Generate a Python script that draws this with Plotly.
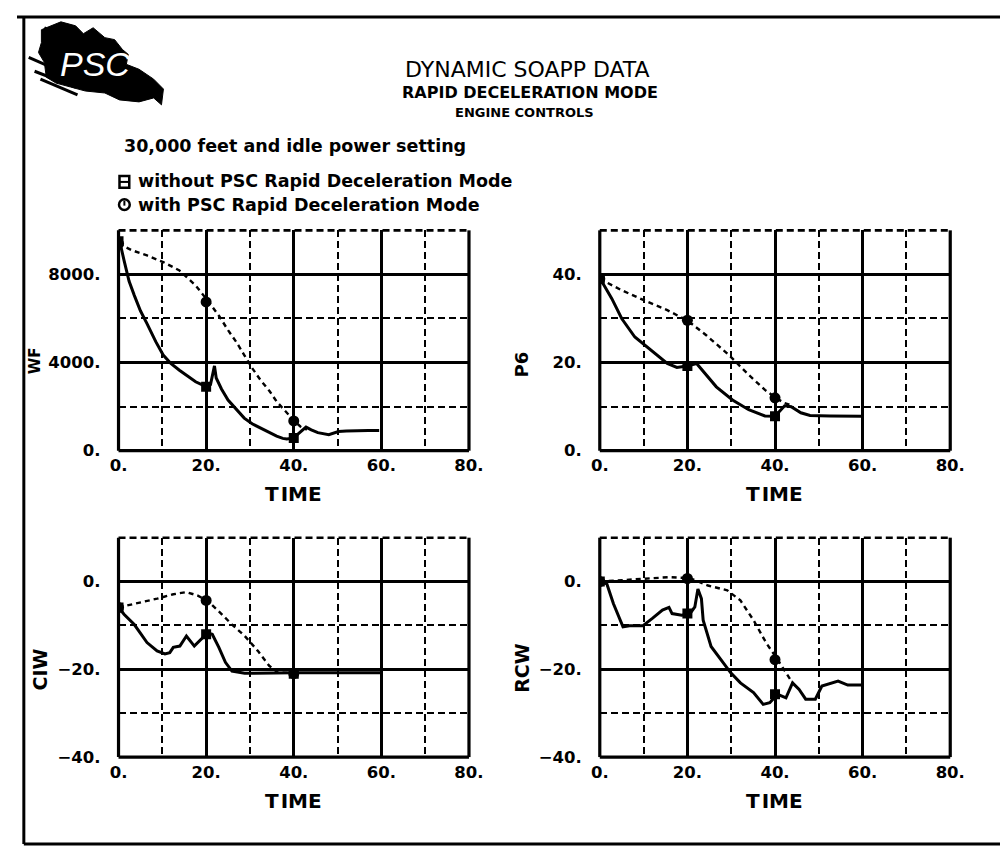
import plotly.graph_objects as go

W, H = 1008, 848

# ---------------- data ----------------
time_ticks = [0, 20, 40, 60, 80]
time_ticktext = ["0.", "20.", "40.", "60.", "80."]
marker_times = [0, 20, 40]

# WF
wf_solid_t = [0, 0.5, 1.3, 2.4, 3.6, 5, 6.5, 8.5, 10.2, 12, 13.9, 15.8, 17.6, 19, 20.2, 21, 21.5, 21.9, 22.3,
              23.5, 25, 27, 28.7, 30.5, 32.4, 34.5, 36.1, 37.5, 38.4, 39.9, 41.3, 42.8, 44, 45.5, 48, 50.2, 52,
              54.7, 57, 59.5]
wf_solid_v = [9500, 9300, 8600, 7700, 7050, 6350, 5770, 4950, 4340, 3950, 3650, 3370, 3130, 3000, 2900, 3000,
              3500, 3850, 3300, 2800, 2300, 1850, 1480, 1220, 1030, 820, 660, 560, 530, 570, 800, 1070, 950, 820,
              725, 870, 900, 920, 920, 920]
wf_dash_t = [0, 3, 6.5, 10.2, 13.9, 17.6, 20.6, 23, 25, 27, 28.7, 30.5, 32.4, 34.5, 36.1, 38, 39.9, 41.5, 43]
wf_dash_v = [9400, 9100, 8860, 8560, 8180, 7500, 6750, 6100, 5470, 4900, 4340, 3750, 3210, 2700, 2230, 1800,
             1400, 1100, 950]
wf_mark_solid = [9500, 2900, 580]
wf_mark_dash = [9400, 6750, 1350]

# P6
p6_solid_t = [0, 1, 2.75, 5, 8, 11.7, 15.4, 17.6, 19.9, 22.1, 24.3, 26.6, 30.3, 34, 37.7, 40, 42.2, 43.7, 45.9,
              48, 52.6, 56, 59.7]
p6_solid_v = [39, 37.5, 34.5, 30, 25.8, 22.8, 19.8, 18.9, 19.2, 19.8, 17.2, 14.5, 11.5, 9.3, 7.9, 7.8, 10.2,
              10.0, 8.6, 8.0, 7.9, 7.9, 7.8]
p6_dash_t = [0, 5, 10.2, 15.4, 20.2, 24.3, 29.5, 34, 37.7, 40.3, 42.2, 44]
p6_dash_v = [39, 36.4, 34.1, 31.9, 29.4, 26.2, 21.7, 17.2, 13.8, 11.9, 10.8, 10.2]
p6_mark_solid = [39, 19.2, 7.8]
p6_mark_dash = [39, 29.6, 12]

# CIW
ciw_solid_t = [0, 1.3, 3.6, 6.5, 8.8, 10.6, 11.7, 12.5, 14, 15.5, 17.3, 18.8, 20.3, 21.4, 22.9, 24.4, 25.9, 28.8,
               35, 40, 50, 60]
ciw_solid_v = [-5.9, -7.5, -9.8, -13.9, -15.8, -16.5, -16.2, -15, -14.7, -12.4, -14.7, -13.2, -11.7, -12, -15,
               -18.4, -20.4, -20.9, -20.8, -20.8, -20.8, -20.8]
ciw_dash_t = [0, 3.6, 8.8, 12.5, 15.5, 18.1, 20.3, 22.9, 25.9, 28.8, 31.8, 34.4, 36.3, 40]
ciw_dash_v = [-5.9, -5.1, -3.9, -2.9, -2.4, -3.2, -4.4, -6.8, -9.8, -12.4, -15.8, -19.2, -20.7, -20.9]
ciw_mark_solid = [-5.9, -12, -21]
ciw_mark_dash = [-5.9, -4.3, -21]

# RCW
rcw_solid_t = [0, 1.6, 3.1, 5.3, 6.8, 9.8, 12, 14.3, 15.8, 16.5, 18.7, 20.6, 21.7, 22.4, 23.2, 23.6, 25.4, 27.6,
               29.9, 32.1, 35.1, 37.3, 38.8, 40.6, 42.5, 44, 45.5, 47, 49.2, 50.7, 52.9, 54.4, 56.6, 60]
rcw_solid_v = [0, -0.5, -5, -10.3, -10.1, -10.1, -8.4, -6.5, -5.9, -7.3, -7.7, -7.3, -5.8, -1.7, -3.9, -8.8,
               -14.8, -17.8, -20.8, -23.1, -25.3, -28, -27.6, -25.7, -26.5, -23.1, -24.6, -26.8, -26.8, -23.8,
               -23.1, -22.7, -23.6, -23.6]
rcw_dash_t = [0, 5, 10.5, 15.8, 20.6, 24.7, 29.1, 32.1, 35.1, 38, 40.6, 42.5, 44]
rcw_dash_v = [0, 0.3, 0.6, 1, 0.75, -0.9, -2, -4.3, -8.8, -14, -17.8, -20.8, -23.1]
rcw_mark_solid = [0, -7.3, -25.7]
rcw_mark_dash = [0, 0.7, -17.8]

# ---------------- layout helpers ----------------
def px(x):
    return x / W

def py(y):
    return 1 - y / H

FONT = "DejaVu Sans"
BLACK = "black"

panels = [
    dict(name="WF", ax="", xd=(104, 463), yd=(225, 448), yr=[0, 10000], ymaj=[0, 4000, 8000],
         ymin=[2000, 6000, 10000], ytt=["0.", "4000.", "8000."], lab=(18, 357), labsize=15, tt=(283, 492),
         solid=(wf_solid_t, wf_solid_v, wf_mark_solid), dash=(wf_dash_t, wf_dash_v, wf_mark_dash)),
    dict(name="P6", ax="2", xd=(597, 956), yd=(225, 448), yr=[0, 50], ymaj=[0, 20, 40],
         ymin=[10, 30, 50], ytt=["0.", "20.", "40."], lab=(517, 361), labsize=18, tt=(776, 492),
         solid=(p6_solid_t, p6_solid_v, p6_mark_solid), dash=(p6_dash_t, p6_dash_v, p6_mark_dash)),
    dict(name="CIW", ax="3", xd=(104, 463), yd=(536, 758), yr=[-40, 10], ymaj=[-40, -20, 0],
         ymin=[-30, -10, 10], ytt=["\u221240.", "\u221220.", "0."], lab=(24, 669), labsize=19, tt=(283, 802),
         solid=(ciw_solid_t, ciw_solid_v, ciw_mark_solid), dash=(ciw_dash_t, ciw_dash_v, ciw_mark_dash)),
    dict(name="RCW", ax="4", xd=(597, 956), yd=(536, 758), yr=[-40, 10], ymaj=[-40, -20, 0],
         ymin=[-30, -10, 10], ytt=["\u221240.", "\u221220.", "0."], lab=(517, 668), labsize=19, tt=(776, 802),
         solid=(rcw_solid_t, rcw_solid_v, rcw_mark_solid), dash=(rcw_dash_t, rcw_dash_v, rcw_mark_dash)),
]

fig = go.Figure()
layout = dict(width=W, height=H, margin=dict(l=0, r=0, t=0, b=0),
              paper_bgcolor="white", plot_bgcolor="white", showlegend=False,
              font=dict(family=FONT, color=BLACK))
shapes = []
annotations = []
TICKFONT = dict(family=FONT, size=16.5, weight="bold", color=BLACK)
GRID_DASH = "7px,4px"

for p in panels:
    xa = "x" + p["ax"]
    ya = "y" + p["ax"]
    st, sv, sm = p["solid"]
    dt, dv, dm = p["dash"]
    fig.add_trace(go.Scatter(x=dt, y=dv, xaxis=xa, yaxis=ya, mode="lines", name="with PSC",
                             line=dict(color=BLACK, width=2.4, dash="5px,4px"), hoverinfo="skip"))
    fig.add_trace(go.Scatter(x=st, y=sv, xaxis=xa, yaxis=ya, mode="lines", name="without PSC",
                             line=dict(color=BLACK, width=3), hoverinfo="skip"))
    fig.add_trace(go.Scatter(x=marker_times, y=dm, xaxis=xa, yaxis=ya, mode="markers",
                             marker=dict(symbol="circle", size=11, color=BLACK), hoverinfo="skip"))
    fig.add_trace(go.Scatter(x=marker_times, y=sm, xaxis=xa, yaxis=ya, mode="markers",
                             marker=dict(symbol="square", size=10, color=BLACK), hoverinfo="skip"))

    xkey = "xaxis" + p["ax"]
    ykey = "yaxis" + p["ax"]
    layout[xkey] = dict(domain=[px(p["xd"][0]), px(p["xd"][1])], range=[0, 80], anchor=ya,
                        tickmode="array", tickvals=time_ticks, ticktext=time_ticktext,
                        showgrid=True, gridcolor=BLACK, gridwidth=3, zeroline=False, showline=False,
                        ticks="", ticklabelstandoff=3, tickfont=TICKFONT,
                        minor=dict(tickmode="array", tickvals=[10, 30, 50, 70], showgrid=True,
                                   gridcolor=BLACK, gridwidth=2.4, griddash=GRID_DASH, ticks=""))
    layout[ykey] = dict(domain=[py(p["yd"][1]), py(p["yd"][0])], range=p["yr"], anchor=xa,
                        tickmode="array", tickvals=p["ymaj"], ticktext=p["ytt"],
                        showgrid=True, gridcolor=BLACK, gridwidth=3, zeroline=False, showline=False,
                        ticks="", ticklabelstandoff=17, tickfont=TICKFONT,
                        minor=dict(tickmode="array", tickvals=p["ymin"], showgrid=True,
                                   gridcolor=BLACK, gridwidth=2.4, griddash=GRID_DASH, ticks=""))
    # plot frame: solid left/bottom/right, dashed top
    xr = xa + " domain"
    yr = ya + " domain"
    for (x0, y0, x1, y1, dash, wdt) in [(0, 0, 0, 1, "solid", 3.2), (0, 0, 1, 0, "solid", 3.2),
                                        (1, 0, 1, 1, "solid", 3.2), (0, 1, 1, 1, GRID_DASH, 2.6)]:
        shapes.append(dict(type="line", xref=xr, yref=yr, x0=x0, y0=y0, x1=x1, y1=y1,
                           line=dict(color=BLACK, width=wdt, dash=dash), layer="below"))
    annotations.append(dict(text=p["name"], xref="paper", yref="paper", x=px(p["lab"][0]),
                            y=py(p["lab"][1]), textangle=-90, showarrow=False,
                            font=dict(family=FONT, size=p["labsize"], weight="bold", color=BLACK),
                            xanchor="center", yanchor="middle"))
    annotations.append(dict(text="T\u200aIME", xref="paper", yref="paper",
                            x=px(p["tt"][0]), y=py(p["tt"][1]), showarrow=False,
                            font=dict(family=FONT, size=20, weight="bold", color=BLACK),
                            xanchor="center", yanchor="middle"))

# titles
annotations += [
    dict(text="DYNAMIC SOAPP DATA", x=px(523), y=py(62), xref="paper", yref="paper", showarrow=False,
         font=dict(family=FONT, size=22, color=BLACK), xanchor="center", yanchor="middle"),
    dict(text="RAPID DECELERATION MODE", x=px(525), y=py(86), xref="paper", yref="paper", showarrow=False,
         font=dict(family=FONT, size=16, weight="bold", color=BLACK), xanchor="center", yanchor="middle"),
    dict(text="ENGINE CONTROLS", x=px(520), y=py(106), xref="paper", yref="paper", showarrow=False,
         font=dict(family=FONT, size=13, weight="bold", color=BLACK), xanchor="center", yanchor="middle"),
    dict(text="30,000 feet and idle power setting", x=px(108), y=py(140), xref="paper", yref="paper",
         showarrow=False, font=dict(family=FONT, size=17.5, weight="bold", color=BLACK),
         xanchor="left", yanchor="middle"),
    dict(text="without PSC Rapid Deceleration Mode", x=px(122), y=py(175), xref="paper", yref="paper",
         showarrow=False, font=dict(family=FONT, size=17.5, weight="bold", color=BLACK),
         xanchor="left", yanchor="middle"),
    dict(text="with PSC Rapid Deceleration Mode", x=px(122), y=py(199), xref="paper", yref="paper",
         showarrow=False, font=dict(family=FONT, size=17.5, weight="bold", color=BLACK),
         xanchor="left", yanchor="middle"),
    dict(text="<i>PSC</i>", x=px(80), y=py(57), xref="paper", yref="paper", showarrow=False,
         font=dict(family="Liberation Sans", size=34, color="white"), xanchor="center", yanchor="middle"),
]

# legend symbols
shapes.append(dict(type="rect", xref="paper", yref="paper", x0=px(105), x1=px(115), y0=py(182), y1=py(170),
                   line=dict(color=BLACK, width=2.5), fillcolor="white"))
shapes.append(dict(type="line", xref="paper", yref="paper", x0=px(105), x1=px(115), y0=py(176), y1=py(176),
                   line=dict(color=BLACK, width=2)))
shapes.append(dict(type="circle", xref="paper", yref="paper", x0=px(104.5), x1=px(115.5), y0=py(204.5),
                   y1=py(193.5), line=dict(color=BLACK, width=2.5), fillcolor="white"))
shapes.append(dict(type="line", xref="paper", yref="paper", x0=px(110), x1=px(110), y0=py(195), y1=py(200),
                   line=dict(color=BLACK, width=2)))

# outer frame (top, left, bottom)
for (x0, y0, x1, y1) in [(0, 9, 1008, 9), (7, 9, 7, 846), (7, 846, 1008, 846)]:
    shapes.append(dict(type="line", xref="paper", yref="paper", x0=px(x0), y0=py(y0), x1=px(x1), y1=py(y1),
                       line=dict(color=BLACK, width=3)))

# PSC logo blob
blob = [(25, 22), (45, 14), (60, 18), (68, 26), (78, 20), (90, 30), (100, 32), (108, 42), (114, 47),
        (112, 57), (125, 62), (140, 72), (150, 82), (148, 98), (140, 91), (125, 95), (105, 93), (90, 86),
        (70, 84), (55, 80), (40, 76), (30, 70), (28, 55), (22, 45), (25, 35)]
path = "M " + " L ".join(f"{px(a):.5f},{py(b):.5f}" for a, b in blob) + " Z"
shapes.append(dict(type="path", xref="paper", yref="paper", path=path, fillcolor=BLACK,
                   line=dict(color=BLACK, width=1), layer="below"))
for (x0, y0, x1, y1) in [(12, 50, 40, 62), (18, 64, 60, 80), (24, 72, 62, 88), (28, 20, 45, 28)]:
    shapes.append(dict(type="line", xref="paper", yref="paper", x0=px(x0), y0=py(y0), x1=px(x1), y1=py(y1),
                       line=dict(color=BLACK, width=3), layer="below"))

layout["shapes"] = shapes
layout["annotations"] = annotations
fig.update_layout(**layout)
fig.write_html("out.html")
